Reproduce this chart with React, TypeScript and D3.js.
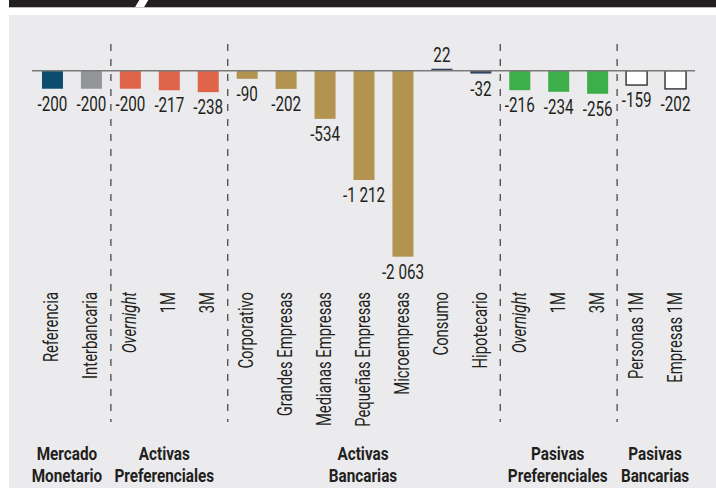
import React from "react";
import * as d3 from "d3";

// Variation of rates (basis points) by segment
const categories = [
  "Referencia", "Interbancaria",
  "Overnight", "1M", "3M",
  "Corporativo", "Grandes Empresas", "Medianas Empresas", "Pequeñas Empresas", "Microempresas", "Consumo", "Hipotecario",
  "Overnight", "1M", "3M",
  "Personas 1M", "Empresas 1M",
];
const values = [-200, -200, -200, -217, -238, -90, -202, -534, -1212, -2063, 22, -32, -216, -234, -256, -159, -202];
const valueLabels = ["-200", "-200", "-200", "-217", "-238", "-90", "-202", "-534", "-1 212", "-2 063", "22", "-32", "-216", "-234", "-256", "-159", "-202"];
const italicLabels = ["Overnight"];
const barColors = [
  "#0e4c6f", "#949598",
  "#e0644a", "#e0644a", "#e0644a",
  "#b29450", "#b29450", "#b29450", "#b29450", "#b29450", "#2f415c", "#34465f",
  "#3daf4a", "#3daf4a", "#3daf4a",
  "#ffffff", "#ffffff",
];
const groupNames = [
  ["Mercado", "Monetario"],
  ["Activas", "Preferenciales"],
  ["Activas", "Bancarias"],
  ["Pasivas", "Preferenciales"],
  ["Pasivas", "Bancarias"],
];
const groupSpans = [[0, 1], [2, 4], [5, 11], [12, 14], [15, 16]];

const W = 716;
const H = 488;
const FONT = "Roboto, 'DejaVu Sans', sans-serif";
const INK = "#231f20";

// Condensed text: Roboto squeezed horizontally along its baseline
function CText(props: {
  x: number; y: number; rotate?: number; sx?: number; size: number;
  anchor?: "start" | "middle" | "end"; weight?: string; italic?: boolean; children: React.ReactNode;
}) {
  const { x, y, rotate = 0, sx = 0.78, size, anchor = "middle", weight = "normal", italic = false } = props;
  return (
    <text
      transform={`translate(${x},${y}) rotate(${rotate}) scale(${sx},1)`}
      textAnchor={anchor}
      fontFamily={FONT}
      fontSize={size}
      fontWeight={weight}
      fontStyle={italic ? "italic" : "normal"}
      fill={INK}
    >
      {props.children}
    </text>
  );
}

export default function App() {
  const x = d3.scaleBand<number>()
    .domain(d3.range(categories.length))
    .range([33, 695])
    .paddingInner(0.46)
    .paddingOuter(0.23);
  const y = d3.scaleLinear().domain([0, -2063]).range([70.7, 256.7]);
  const bw = x.bandwidth();
  const cx = (i: number) => (x(i) as number) + bw / 2;

  const separators = groupSpans.slice(1).map(([s]) => (cx(s - 1) + cx(s)) / 2);

  return (
    <svg width={W} height={H} style={{ position: "absolute", left: 0, top: 0, display: "block" }}>
      {/* header strip */}
      <rect x={9} y={0} width={W - 9} height={7.3} fill={INK} />
      <polygon points="139.3,0 148.3,0 144,7.3 135,7.3" fill="#ffffff" />
      <rect x={9} y={15} width={W - 9} height={H - 15} fill="#ebebed" />

      {/* group separators */}
      {separators.map((sx, i) => (
        <line key={i} x1={sx} x2={sx} y1={44} y2={422} stroke="#555" strokeWidth={1.4} strokeDasharray="7,8" />
      ))}

      {/* bars */}
      {values.map((v, i) => {
        const y0 = y(0), y1 = y(v);
        const white = barColors[i] === "#ffffff";
        return (
          <rect
            key={i}
            x={x(i)}
            y={Math.min(y0, y1)}
            width={bw}
            height={Math.abs(y1 - y0)}
            fill={barColors[i]}
            stroke={white ? INK : "none"}
            strokeWidth={white ? 1.3 : 0}
          />
        );
      })}

      {/* zero line */}
      <line x1={32} x2={695} y1={y(0)} y2={y(0)} stroke="#7a7a7a" strokeWidth={1.5} />

      {/* value labels */}
      {values.map((v, i) => (
        <CText key={i} x={cx(i)} y={v >= 0 ? y(v) - 7 : y(v) + 22} size={19.5}>
          {valueLabels[i]}
        </CText>
      ))}

      {/* category labels */}
      {categories.map((c, i) => (
        <CText key={i} x={cx(i) + 6} y={292} rotate={-90} size={19.5} sx={0.76} anchor="end" italic={italicLabels.includes(c)}>
          {c}
        </CText>
      ))}

      {/* group labels */}
      {groupNames.map((g, gi) => {
        const [s, e] = groupSpans[gi];
        const gx = (cx(s) + cx(e)) / 2 - (gi < 2 ? 5 : 1);
        return (
          <g key={gi}>
            <CText x={gx} y={460} size={18} weight="bold" sx={0.85}>{g[0]}</CText>
            <CText x={gx} y={481.7} size={18} weight="bold" sx={0.85}>{g[1]}</CText>
          </g>
        );
      })}
    </svg>
  );
}
